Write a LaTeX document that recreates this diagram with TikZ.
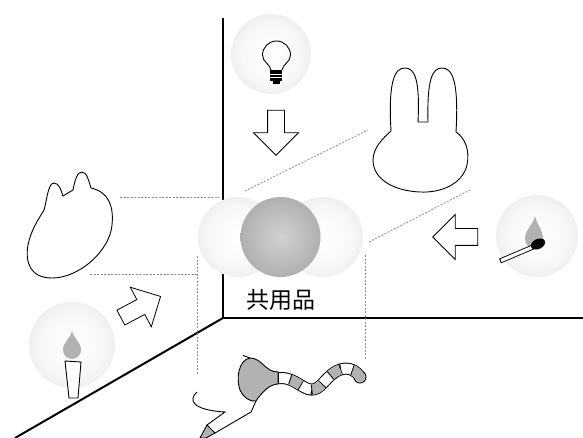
\documentclass[tikz,border=0pt]{standalone}
\usepackage{fontspec}
\newfontfamily\cjk{Noto Sans CJK JP}
\usetikzlibrary{shapes.arrows}
% soft light ball and the darker shared ball
\pgfdeclareradialshading{glowshade}{\pgfpoint{0bp}{0bp}}{color(0bp)=(white); color(18bp)=(black!3); color(50bp)=(black!17)}
\pgfdeclareradialshading{coreshade}{\pgfpoint{0bp}{0bp}}{color(0bp)=(black!18); color(50bp)=(black!44)}

\begin{document}
\begin{tikzpicture}[x=1pt,y=-1pt,
  glow/.style={circle,minimum size=80pt,inner sep=0pt,shading=glowshade},
  guide/.style={dash pattern=on 2pt off 1.5pt,black!45,line width=0.8pt},
  hollow/.style={single arrow,draw,fill=white,line width=0.8pt,minimum height=45pt,inner sep=8pt,single arrow head extend=14pt},
  outline/.style={line width=0.9pt}]
  \useasboundingbox (0,0) rectangle (583,438);

  % axes
  \draw[line width=2pt] (223,18) -- (223,318) -- (583,318);
  \draw[line width=2pt] (223,318) -- (15,438);

  % bulb
  \node[glow] (bulbglow) at (271,54) {};
  \draw[outline] (271,70) .. controls (270,64) and (262.5,62) .. (262.5,55) arc[start angle=180,end angle=0,radius=14pt] .. controls (290.5,62) and (283,64) .. (282,70);
  \fill (270,70.5) rectangle (282,81);
  \draw[white,line width=0.6pt] (270,74) -- (282,74) (270,77.5) -- (282,77.5);
  \fill (272.5,81) rectangle (279.5,84);
  \node[hollow,rotate=-90] (bulbarrow) at (276,128.5) {};

  % match
  \node[glow,minimum size=82pt] (matchglow) at (537,236) {};
  \fill[black!30] (535,216) .. controls (533,225) and (525,230) .. (525,239) arc[start angle=180,end angle=360,radius=9pt] .. controls (543,230) and (537,225) .. (535,216) -- cycle;
  \draw[line width=5pt] (500,261) -- (533,247);
  \draw[white,line width=3.2pt] (501,260.6) -- (532,247.4);
  \fill[rotate around={25:(538,244)}] (538,244) ellipse (7.5pt and 5pt);
  \node[hollow,rotate=180] (matcharrow) at (459.5,237) {};

  % candle
  \node[glow,minimum size=86pt] (candleglow) at (72,345) {};
  \fill[black!30] (72,331) .. controls (70,339) and (63,342) .. (63,350) arc[start angle=180,end angle=360,radius=9pt] .. controls (81,342) and (74,339) .. (72,331) -- cycle;
  \draw[outline,fill=white] (65,361) -- (81,362) -- (78,398) -- (69,398) -- cycle;
  \node[hollow,rotate=28] (candlearrow) at (137,309) {};

  % shared item
  \node[glow] (leftball) at (238,237) {};
  \node[glow] (rightball) at (323,237) {};
  \node[circle,minimum size=80pt,inner sep=0pt,shading=coreshade] (sharedball) at (280.5,237) {};
  \node[font=\cjk\fontsize{23pt}{23pt}\selectfont] (sharedlabel) at (281,300) {共用品};

  % guide lines
  \draw[guide] (120,197) -- (219,197);
  \draw[guide] (90,274) -- (197,274);
  \draw[guide] (197,256) -- (197,375);
  \draw[guide] (365,255) -- (365,360);
  \draw[guide] (245,191) -- (368,130);
  \draw[guide] (369,242) -- (470,190);

  % cat
  \draw[outline] (44,210) .. controls (47,200) and (48,183) .. (54,183) .. controls (59,183) and (61,190) .. (63,196) -- (73,190) .. controls (75,180) and (77,172) .. (82,172) .. controls (87,172) and (89,182) .. (91,188) .. controls (108,192) and (114,205) .. (112,225) .. controls (110,250) and (80,278) .. (52,278) .. controls (30,278) and (25,262) .. (28,245) .. controls (31,230) and (38,220) .. (44,210) -- cycle;

  % rabbit
  \draw[outline] (391,131) .. controls (388,80) and (395,68) .. (405,68) .. controls (415,68) and (420,80) .. (418,122) -- (428,122) .. controls (427,80) and (432,68) .. (442,68) .. controls (452,68) and (459,80) .. (456,132) .. controls (465,138) and (470,150) .. (467,165) .. controls (462,185) and (440,193) .. (420,192) .. controls (395,191) and (373,180) .. (373,160) .. controls (373,148) and (383,138) .. (391,131) -- cycle;

  % worm
  \draw[line width=0.9pt] (360,377) circle (6pt);
  \draw[white,line width=10pt,
    preaction={draw=black,line width=12pt},
    postaction={draw=black!30,line width=10pt,dash pattern=on 12pt off 12pt,dash phase=12pt},
    postaction={draw=black,line width=10pt,dash pattern=on 0.8pt off 11.2pt}]
    (278,378) .. controls (292,377) and (298,385) .. (308,389) .. controls (318,392) and (322,383) .. (330,376) .. controls (338,368) and (352,364) .. (360,377);
  \fill[black!30] (360,377) circle (5.3pt);
  \draw[outline,fill=black!30] (278,372) .. controls (265,372) and (262,358) .. (250,358) .. controls (238,360) and (236,380) .. (240,390) .. controls (244,398) and (250,402) .. (256,401) .. controls (262,392) and (270,384) .. (278,384) -- cycle;
  \draw[outline] (243,355.5) .. controls (246,357) .. (250,358);
  \draw[outline] (256,401) -- (251,412) -- (215,433);
  \draw[outline] (197,392) .. controls (188,400) and (192,410) .. (225,412) -- (207,425);
  \draw[outline,fill=black!30] (207,425) -- (215,433) -- (206,438) -- (200,438) -- cycle;
\end{tikzpicture}
\end{document}
